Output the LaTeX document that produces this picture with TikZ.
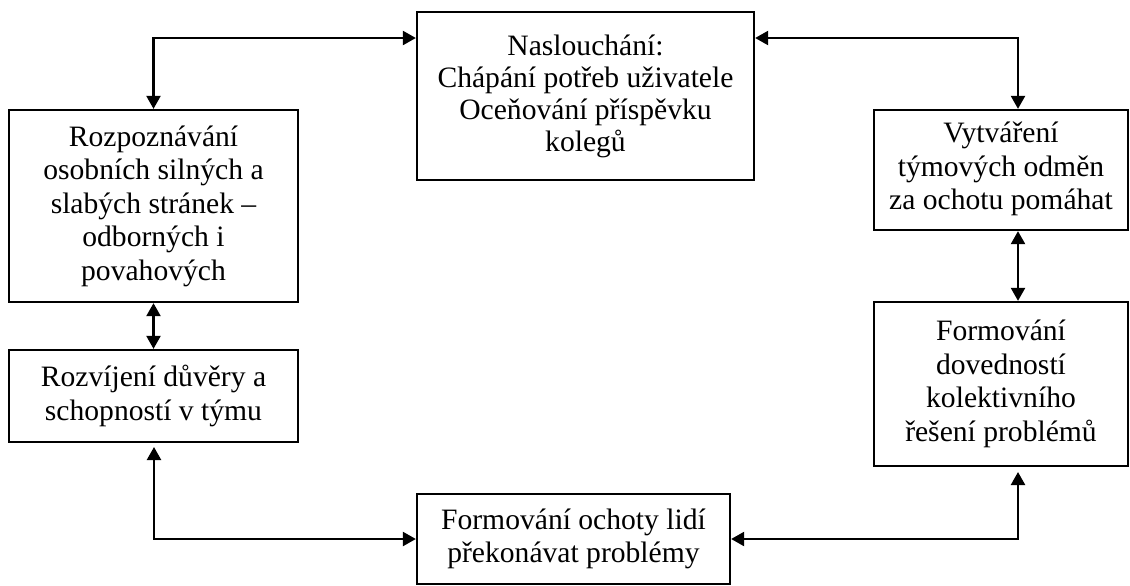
\documentclass[tikz,border=0pt]{standalone}
\usepackage{fontspec}
\setmainfont{Liberation Serif}
\usetikzlibrary{arrows.meta,calc}
\begin{document}
\begin{tikzpicture}[
  x=0.5pt, y=-0.5pt,
  font=\fontsize{14.8}{16.75}\selectfont,
  box/.style={draw, line width=1.15pt, rectangle, inner sep=0pt, align=center},
  link/.style={line width=1.15pt, {Triangle[length=6.5pt,width=7pt]}-{Triangle[length=6.5pt,width=7pt]}}
]
\useasboundingbox (0,0) rectangle (1130,585);

% boxes (centre, width, height in px)
\node[box, minimum width=337*0.5pt, minimum height=168*0.5pt,
      font=\fontsize{14.8}{16}\selectfont] (listen) at (585.5,96)
  {Naslouchání:\\Chápání potřeb uživatele\\Oceňování příspěvku\\kolegů};
\node[box, minimum width=289*0.5pt, minimum height=192*0.5pt] (recog) at (153.5,206)
  {Rozpoznávání\\osobních silných a\\slabých stránek –\\odborných i\\povahových};
\node[box, minimum width=289*0.5pt, minimum height=92*0.5pt] (trust) at (153.5,396)
  {Rozvíjení důvěry a\\schopností v týmu};
\node[box, minimum width=313*0.5pt, minimum height=90*0.5pt] (will) at (573.5,539)
  {Formování ochoty lidí\\překonávat problémy};
\node[box, minimum width=254*0.5pt, minimum height=120*0.5pt,
      text depth=4pt] (reward) at (1001,170)
  {Vytváření\\týmových odměn\\za ochotu pomáhat};
\node[box, minimum width=254*0.5pt, minimum height=164*0.5pt] (skills) at (1001,384)
  {Formování\\dovedností\\kolektivního\\řešení problémů};

% routing points of the connectors
\coordinate (tl) at (154,38);
\coordinate (tr) at (1018,38);
\coordinate (bl) at (154,447);
\coordinate (br) at (1018,472);

% connectors
\draw[link] (recog.north) |- (listen.west |- tl);
\draw[link] (listen.east |- tr) -| (reward.north -| tr);
\draw[link] (recog.south) -- (trust.north);
\draw[link] (reward.south -| tr) -- (skills.north -| tr);
\draw[link] (bl) |- (will.west);
\draw[link] (will.east) -| (br);
\end{tikzpicture}
\end{document}
